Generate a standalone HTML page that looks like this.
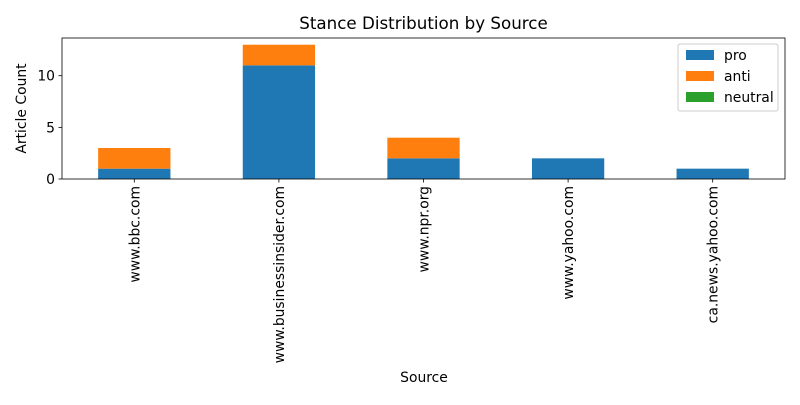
<!DOCTYPE html>
<html><head><meta charset="utf-8"><style>
body{margin:0;background:#fff;}
svg{font-family:"DejaVu Sans","Liberation Sans",sans-serif;}
</style></head><body>
<svg id="chart" width="800" height="400">
<text x="423.5" y="29" text-anchor="middle" font-size="16.7">Stance Distribution by Source</text>
<g id="bars"></g>
<g id="yticks"></g>
<g id="xticks"></g>
<rect x="62" y="38" width="723" height="141" fill="none" stroke="#000" stroke-width="0.8"/>
<text x="424" y="382" text-anchor="middle" font-size="13.9">Source</text>
<text transform="translate(26,108.5) rotate(-90)" text-anchor="middle" font-size="13.9">Article Count</text>
<g>
<rect x="678" y="44" width="100" height="67" fill="#fff" stroke="#ccc" rx="2"/>
<rect x="686" y="50" width="28" height="10" fill="#1f77b4"/>
<text x="724" y="60" font-size="13.9">pro</text>
<rect x="686" y="71" width="28" height="10" fill="#ff7f0e"/>
<text x="724" y="81" font-size="13.9">anti</text>
<rect x="686" y="92" width="28" height="10" fill="#2ca02c"/>
<text x="724" y="102" font-size="13.9">neutral</text>
</g>
</svg>
<script>
const categories=["www.bbc.com","www.businessinsider.com","www.npr.org","www.yahoo.com","ca.news.yahoo.com"];
const proValues=[1,11,2,2,1];
const antiValues=[2,2,2,0,0];
const neutralValues=[0,0,0,0,0];
const yTickValues=[0,5,10];
const NS="http://www.w3.org/2000/svg";
const L=62,R=785,T=38,B=179;
const totals=categories.map((c,i)=>proValues[i]+antiValues[i]+neutralValues[i]);
const yMax=Math.max(...totals)*1.05;
const y=v=>B-(v/yMax)*(B-T);
const step=(R-L)/categories.length;
const x=i=>L+step*(i+0.5);
const bw=step*0.5;
function mk(tag,attrs,parent){const e=document.createElementNS(NS,tag);for(const k in attrs)e.setAttribute(k,attrs[k]);parent.appendChild(e);return e;}
const gb=document.getElementById('bars');
const series=[["pro",proValues,"#1f77b4"],["anti",antiValues,"#ff7f0e"],["neutral",neutralValues,"#2ca02c"]];
categories.forEach((c,i)=>{
  let base=0;
  series.forEach(([n,vals,col])=>{
    const v=vals[i];
    if(v>0){
      const r=mk('rect',{x:x(i)-bw/2,y:y(base+v),width:bw,height:y(base)-y(base+v),fill:col},gb);
      
      
    }
    base+=v;
  });
});
const gy=document.getElementById('yticks');
yTickValues.forEach(v=>{
  const l=mk('line',{x1:L-3.5,x2:L,y1:y(v),y2:y(v),stroke:'#000','stroke-width':0.8},gy);
  
  
  const t=mk('text',{x:L-7,y:y(v)+5,'text-anchor':'end','font-size':13.9},gy);
  t.textContent=v;
  
  
});
const gx=document.getElementById('xticks');
categories.forEach((c,i)=>{
  const l=mk('line',{x1:x(i),x2:x(i),y1:B,y2:B+3.5,stroke:'#000','stroke-width':0.8},gx);
  
  
  const t=mk('text',{transform:`translate(${x(i)+5},${B+7}) rotate(-90)`,'text-anchor':'end','font-size':13.9},gx);
  t.textContent=c;
  
  
});
</script>
</body></html>
